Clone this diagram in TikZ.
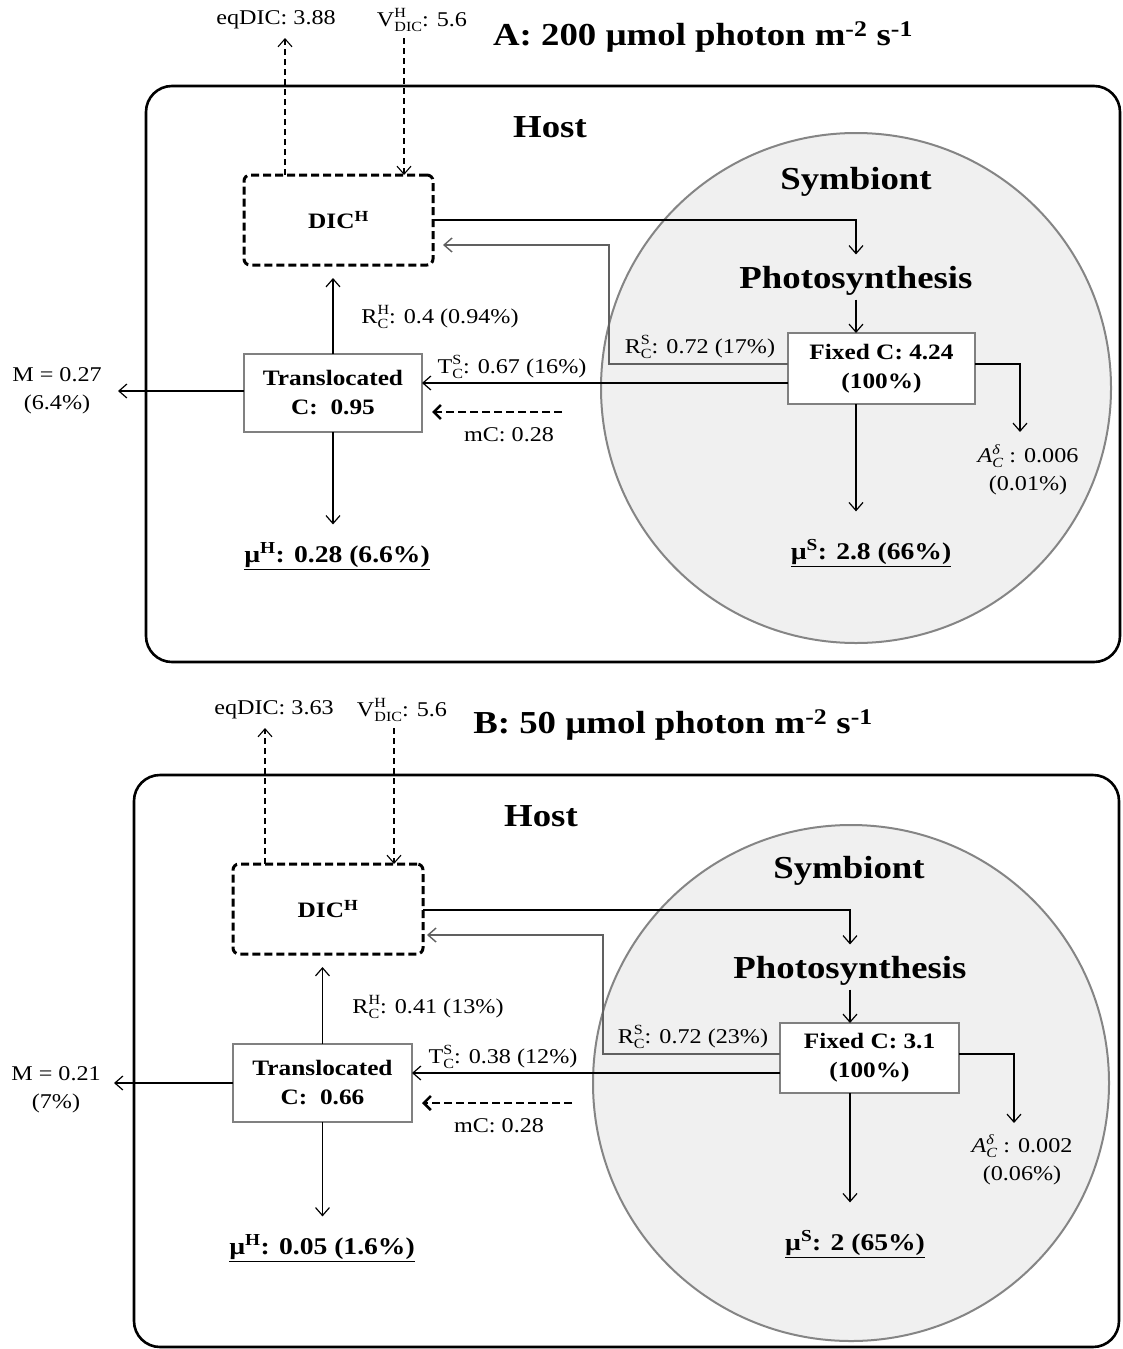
\documentclass[tikz,border=0pt]{standalone}
\usepackage{fontspec}
\setmainfont[FakeStretch=1.15]{Liberation Serif}
\usetikzlibrary{arrows.meta}

\definecolor{symfill}{HTML}{F0F0F0}
\definecolor{symedge}{HTML}{858585}
\definecolor{boxedge}{HTML}{808080}
\definecolor{resp}{HTML}{606060}

\newcommand{\headfont}{\fontsize{32}{38}\selectfont\bfseries}
\newcommand{\boxfont}{\fontsize{22}{29}\selectfont\bfseries}
\newcommand{\labfont}{\fontsize{21}{28}\selectfont}
\newcommand{\growfont}{\fontsize{24}{28}\selectfont\bfseries}
% superscript stacked over a subscript
\newcommand{\supsub}[2]{{\fontsize{14}{14}\selectfont
  \setbox0=\hbox{\raisebox{0.6em}{#1}}%
  \setbox2=\hbox{\raisebox{-0.35em}{#2}}%
  \ifdim\wd0>\wd2 \rlap{\box2}\box0 \else \rlap{\box0}\box2 \fi}}

\tikzset{
  every node/.style={inner sep=0pt, outer sep=0pt},
  hostbox/.style={draw=black, line width=2.6pt, rounded corners=26pt},
  cell/.style={draw=symedge, fill=symfill, line width=2pt},
  poolbox/.style={draw=boxedge, fill=white, line width=2.4pt, align=center, font=\boxfont},
  dicbox/.style={draw=black, fill=white, line width=3pt, dash pattern=on 8pt off 4pt,
                 rounded corners=6pt, font=\boxfont},
  head/.style={font=\headfont},
  lab/.style={font=\labfont, align=center},
  growthlab/.style={font=\growfont},
  tip/.style={-{Straight Barb[length=8pt,width=14pt]}},
  flow/.style={draw=black, line width=1.2pt, tip},
  rflow/.style={draw=resp, line width=1.4pt, tip},
  exch/.style={draw=black, line width=1.1pt, dash pattern=on 6pt off 4pt, tip},
  mflow/.style={draw=black, line width=2.6pt, dash pattern=on 8pt off 4pt,
                -{Straight Barb[length=7pt,width=14pt,line width=2.6pt]}}
}

\begin{document}
\begin{tikzpicture}[x=1pt,y=-1pt]
\useasboundingbox (0,0) rectangle (1122,1349);

%% ---------------- Panel A: 200 umol photon ----------------
\draw[hostbox] (146,86) rectangle (1120,662);
\draw[cell] (856,388) circle[radius=255];

\node[head] (aTitle) at (703,37) {A: 200 µmol photon m\textsuperscript{-2} s\textsuperscript{-1}};
\node[head] (aHost) at (550,127) {Host};
\node[head] (aSym) at (856,182) {Symbiont};
\node[head] (aPhoto) at (856,281) {Photosynthesis};

\node[lab] (aEq) at (276,20) {eqDIC: 3.88};
\node[lab] (aV) at (422,20) {V\supsub{H}{DIC}: 5.6};
\coordinate (aEqTip) at (285,38);
\coordinate (aVTop) at (404,38);

\node[dicbox, minimum width=189pt, minimum height=90pt] (aDIC) at (338.5,220) {DIC\textsuperscript{H}};
\node[poolbox, minimum width=178pt, minimum height=78pt] (aTrans) at (333,393) {Translocated\\C:\ \ 0.95};
\node[poolbox, minimum width=187pt, minimum height=71pt] (aFix) at (881.5,368.5) {Fixed C: 4.24\\(100\%)};

\node[lab] (aRH) at (440,317) {R\supsub{H}{C}: 0.4 (0.94\%)};
\node[lab] (aTS) at (512,367) {T\supsub{S}{C}: 0.67 (16\%)};
\node[lab] (aRS) at (700,347) {R\supsub{S}{C}: 0.72 (17\%)};
\node[lab] (aMC) at (509,435) {mC: 0.28};
\node[lab] (aM) at (57,391) {M = 0.27\\(6.4\%)};
\node[growthlab] (aMuH) at (337,556) {\underline{µ\textsuperscript{H}: 0.28 (6.6\%)}};
\node[growthlab] (aMuS) at (871,553) {\underline{µ\textsuperscript{S}: 2.8 (66\%)}};
\node[lab] (aAd) at (1028,470) {\textit{A}\supsub{\textit{δ}}{\textit{C}} : 0.006\\(0.01\%)};
\coordinate (aAdTip) at (1020,432);
\coordinate (aRSBend) at (609,245);
\coordinate (aMCStart) at (562,412);
\coordinate (aMTip) at (118,391);

% exchange with the surrounding seawater
\draw[exch] (aDIC.north -| aEqTip) -- (aEqTip);
\draw[exch] (aVTop) -- (aVTop |- aDIC.north);
% carbon flows
\draw[flow] (aDIC.east) -| ([yshift=12pt]aPhoto.north);
\draw[flow] ([yshift=-4pt]aPhoto.south) -- (aPhoto.south |- aFix.north);
\draw[rflow] ([yshift=4.5pt]aFix.west) -| (aRSBend) -- ([xshift=10pt]aRSBend -| aDIC.east);
\draw[flow] ([yshift=-14.5pt]aFix.west) -- ([yshift=-14.5pt]aFix.west -| aTrans.east);
\draw[mflow, shorten >=10pt] (aMCStart) -- (aMCStart -| aTrans.east);
\draw[flow, shorten >=13pt] (aTrans.north) -- (aTrans.north |- aDIC.south);
\draw[flow] (aTrans.west |- aMTip) -- (aMTip);
\draw[flow] (aTrans.south) -- ([yshift=18pt]aTrans.south |- aMuH.north);
\draw[flow] (aFix.south -| aPhoto) -- ([yshift=28pt]aPhoto |- aMuS.north);
\draw[flow] ([yshift=4.5pt]aFix.east) -| (aAdTip);

%% ---------------- Panel B: 50 umol photon ----------------
\draw[hostbox] (134,775) rectangle (1119,1347);
\draw[cell] (851,1083) circle[radius=258];

\node[head] (bTitle) at (673,725) {B: 50 µmol photon m\textsuperscript{-2} s\textsuperscript{-1}};
\node[head] (bHost) at (541,816) {Host};
\node[head] (bSym) at (849,871) {Symbiont};
\node[head] (bPhoto) at (850,971) {Photosynthesis};

\node[lab] (bEq) at (274,710) {eqDIC: 3.63};
\node[lab] (bV) at (402,710) {V\supsub{H}{DIC}: 5.6};
\coordinate (bEqTip) at (265,728);
\coordinate (bVTop) at (394,728);

\node[dicbox, minimum width=190pt, minimum height=90pt] (bDIC) at (328,909) {DIC\textsuperscript{H}};
\node[poolbox, minimum width=179pt, minimum height=78pt] (bTrans) at (322.5,1083) {Translocated\\C:\ \ 0.66};
\node[poolbox, minimum width=179pt, minimum height=70pt] (bFix) at (869.5,1058) {Fixed C: 3.1\\(100\%)};

\node[lab] (bRH) at (428,1007) {R\supsub{H}{C}: 0.41 (13\%)};
\node[lab] (bTS) at (503,1057) {T\supsub{S}{C}: 0.38 (12\%)};
\node[lab] (bRS) at (693,1037) {R\supsub{S}{C}: 0.72 (23\%)};
\node[lab] (bMC) at (499,1126) {mC: 0.28};
\node[lab] (bM) at (56,1090) {M = 0.21\\(7\%)};
\node[growthlab] (bMuH) at (322,1248) {\underline{µ\textsuperscript{H}: 0.05 (1.6\%)}};
\node[growthlab] (bMuS) at (855,1244) {\underline{µ\textsuperscript{S}: 2 (65\%)}};
\node[lab] (bAd) at (1022,1160) {\textit{A}\supsub{\textit{δ}}{\textit{C}} : 0.002\\(0.06\%)};
\coordinate (bAdTip) at (1014,1123);
\coordinate (bRSBend) at (603,935);
\coordinate (bMCStart) at (572,1103);
\coordinate (bMTip) at (114,1083);

\draw[exch] (bDIC.north -| bEqTip) -- (bEqTip);
\draw[exch] (bVTop) -- (bVTop |- bDIC.north);
\draw[flow] ([yshift=-1pt]bDIC.east) -| ([yshift=12pt]bPhoto.north);
\draw[flow] ([yshift=-4pt]bPhoto.south) -- (bPhoto.south |- bFix.north);
\draw[rflow] ([yshift=4pt]bFix.west) -| (bRSBend) -- ([xshift=4pt]bRSBend -| bDIC.east);
\draw[flow] ([yshift=-15pt]bFix.west) -- ([yshift=-15pt]bFix.west -| bTrans.east);
\draw[mflow, shorten >=10pt] (bMCStart) -- (bMCStart -| bTrans.east);
\draw[flow, shorten >=13pt] (bTrans.north) -- (bTrans.north |- bDIC.south);
\draw[flow] (bTrans.west |- bMTip) -- (bMTip);
\draw[flow] (bTrans.south) -- ([yshift=18pt]bTrans.south |- bMuH.north);
\draw[flow] (bFix.south -| bPhoto) -- ([yshift=28pt]bPhoto |- bMuS.north);
\draw[flow] ([yshift=4pt]bFix.east) -| (bAdTip);
\end{tikzpicture}
\end{document}
